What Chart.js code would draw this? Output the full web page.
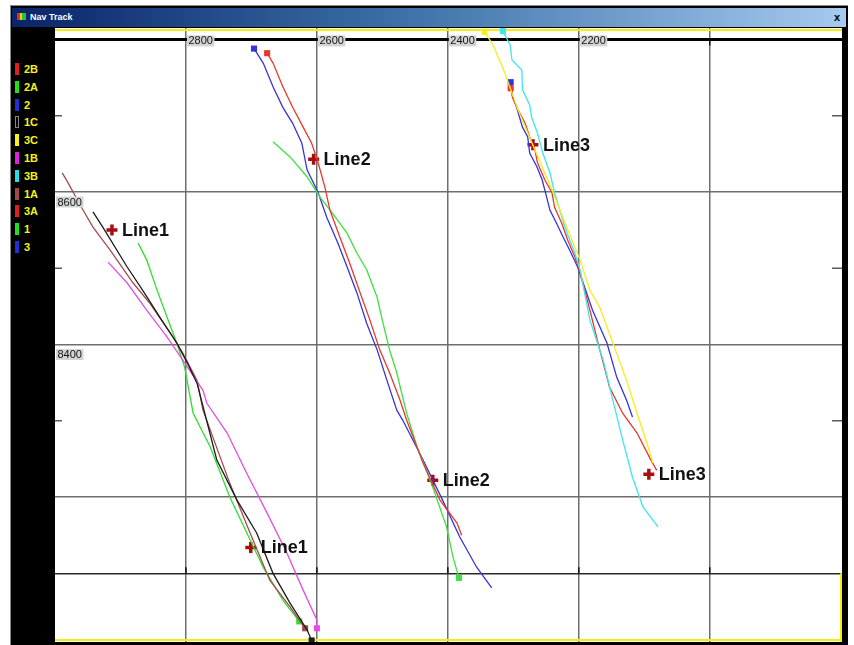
<!DOCTYPE html>
<html>
<head>
<meta charset="utf-8">
<title>Nav Track</title>
<script src="https://cdn.jsdelivr.net/npm/chart.js@4.4.1/dist/chart.umd.min.js"></script>
<style>
    body { margin: 0; width: 854px; height: 645px; background: #fff; position: relative; overflow: hidden; font-family: "Liberation Sans", Arial, sans-serif; }
    #window { position: absolute; left: 10px; top: 5px; width: 838px; height: 640px; background: #000; border-left: 1px solid #888; border-top: 1px solid #888; box-sizing: border-box; }
    #titlebar { position: absolute; left: 12px; top: 8px; width: 834px; height: 19px; background: linear-gradient(to right, #0a246a 0%, #3a6ea5 45%, #a6caf0 100%); }
    #title-icon { position: absolute; left: 5px; top: 5px; width: 9px; height: 7px; background: linear-gradient(to right, #e03030 0 30%, #f0d020 30% 60%, #30c030 60%); }
    #title-text { position: absolute; left: 18px; top: 3px; color: #fff; font: bold 9px "Liberation Sans", Arial, sans-serif; line-height: 12px; }
    #title-close { position: absolute; right: 2px; top: 2px; width: 10px; height: 14px; color: #000; font: bold 11px "Liberation Sans", Arial, sans-serif; line-height: 14px; }
    #legend { position: absolute; left: 12px; top: 28px; width: 43px; height: 614px; background: #000; }
    .legend-item { position: absolute; left: 3px; height: 12px; }
    .legend-swatch { position: absolute; left: 0; top: 0; width: 4px; height: 12px; box-sizing: border-box; }
    .legend-label { position: absolute; left: 9px; top: 0; color: #f4f020; font: bold 11px "Liberation Sans", Arial, sans-serif; line-height: 12px; white-space: nowrap; }
    #plot { position: absolute; left: 55px; top: 28px; width: 787px; height: 614px; background: #fff; }
</style>
</head>
<body>
<div id="window"></div>
<div id="titlebar">
    <div id="title-icon"></div>
    <div id="title-text">Nav Track</div>
    <div id="title-close">x</div>
</div>
<div id="legend"></div>
<canvas id="plot" width="787" height="614"></canvas>
<script>
// Track names as listed in the side legend (top to bottom)
const legendNames = ['2B', '2A', '2', '1C', '3C', '1B', '3B', '1A', '3A', '1', '3'];

// Axis values (easting runs right to left)
const xGridValues = [2800, 2600, 2400, 2200, 2000];
const xTickLabels = ['2800', '2600', '2400', '2200'];
const yGridValues = [8800, 8600, 8400, 8200, 8100];
const yTickValues = [8600, 8400];
const yTickLabels = ['8600', '8400'];
const yMinorTicks = [8700, 8500, 8300];

// Track positions [easting, northing]
const track1A = [[2989, 8625], [2980, 8612], [2959, 8579], [2942, 8554], [2916, 8524], [2881, 8481], [2855, 8454], [2820, 8410], [2805, 8389], [2783, 8353], [2774, 8314], [2733, 8218], [2702, 8153], [2672, 8091], [2641, 8056], [2618, 8028]];
const track1C = [[2942, 8574], [2927, 8554], [2890, 8502], [2866, 8471], [2840, 8436], [2814, 8402], [2798, 8376], [2783, 8349], [2753, 8249], [2722, 8196], [2692, 8153], [2667, 8100], [2641, 8061], [2615, 8026], [2608, 8012]];
const track1B = [[2919, 8508], [2890, 8481], [2860, 8445], [2829, 8410], [2805, 8380], [2774, 8340], [2768, 8323], [2737, 8284], [2707, 8231], [2676, 8179], [2646, 8127], [2621, 8078], [2600, 8039], [2600, 8028]];
const track1 = [[2873, 8533], [2860, 8511], [2844, 8471], [2829, 8436], [2814, 8402], [2802, 8370], [2789, 8310], [2763, 8266], [2733, 8200], [2707, 8153], [2682, 8108], [2652, 8065], [2627, 8037]];

const track2 = [[2696, 8788], [2682, 8769], [2667, 8738], [2652, 8711], [2637, 8690], [2623, 8664], [2615, 8629], [2598, 8599], [2585, 8567], [2568, 8533], [2554, 8502], [2539, 8468], [2524, 8428], [2508, 8393], [2493, 8353], [2478, 8314], [2469, 8301], [2438, 8249], [2408, 8196], [2382, 8148], [2356, 8108], [2333, 8081]];
const track2B = [[2676, 8782], [2667, 8769], [2652, 8738], [2637, 8711], [2621, 8685], [2608, 8664], [2598, 8638], [2588, 8607], [2580, 8576], [2565, 8541], [2550, 8507], [2534, 8468], [2519, 8432], [2504, 8393], [2489, 8363], [2473, 8327], [2463, 8301], [2438, 8245], [2412, 8196], [2386, 8166], [2379, 8150]];
const track2A = [[2667, 8666], [2641, 8646], [2615, 8620], [2595, 8593], [2576, 8572], [2554, 8546], [2539, 8520], [2524, 8498], [2508, 8462], [2499, 8428], [2489, 8393], [2478, 8363], [2469, 8331], [2463, 8310], [2447, 8266], [2423, 8213], [2402, 8161], [2392, 8121], [2383, 8094]];

const track3C = [[2344, 8810], [2331, 8793], [2313, 8756], [2293, 8708], [2267, 8655], [2241, 8603], [2220, 8557], [2198, 8511], [2183, 8471], [2168, 8449], [2148, 8402], [2127, 8353], [2111, 8310], [2096, 8271], [2087, 8245]];
const track3B = [[2316, 8811], [2305, 8793], [2302, 8773], [2287, 8760], [2286, 8734], [2275, 8714], [2272, 8698], [2263, 8677], [2255, 8651], [2244, 8625], [2237, 8599], [2229, 8576], [2218, 8546], [2206, 8520], [2198, 8498], [2183, 8432], [2163, 8380], [2148, 8327], [2133, 8275], [2118, 8226], [2102, 8187], [2079, 8161]];
const track3A = [[2304, 8736], [2301, 8723], [2293, 8708], [2282, 8690], [2275, 8672], [2267, 8655], [2263, 8638], [2252, 8616], [2241, 8599], [2237, 8580], [2226, 8559], [2217, 8537], [2206, 8515], [2198, 8494], [2183, 8445], [2168, 8393], [2153, 8344], [2133, 8310], [2111, 8284], [2092, 8252], [2081, 8235]];
const track3 = [[2304, 8744], [2301, 8725], [2295, 8711], [2286, 8685], [2278, 8672], [2275, 8651], [2264, 8633], [2256, 8616], [2249, 8593], [2244, 8576], [2234, 8559], [2224, 8541], [2214, 8524], [2202, 8502], [2195, 8485], [2179, 8445], [2157, 8402], [2142, 8357], [2127, 8327], [2118, 8305]];

// Which end of each track carries the position marker
const markerEnd = { '2B': 'start', '2A': 'end', '2': 'start', '1C': 'end', '3C': 'start', '1B': 'end', '3B': 'start', '1A': 'end', '3A': 'start', '1': 'end', '3': 'start' };

// Line name labels
const lineNames = ['Line1', 'Line1', 'Line2', 'Line2', 'Line3', 'Line3'];
const lineLabelX = [2913, 2701, 2605, 2423, 2270, 2093];
const lineLabelY = [8550, 8134, 8643, 8222, 8662, 8230];

const trackData = {
    '2B': track2B, '2A': track2A, '2': track2,
    '1C': track1C, '3C': track3C, '1B': track1B, '3B': track3B,
    '1A': track1A, '3A': track3A, '1': track1, '3': track3
};

const trackColors = {
    '2B': '#e8382e', '2A': '#3ee03e', '2': '#3434dc',
    '1C': '#1c1c1c', '3C': '#f6ee1a', '1B': '#e24ee2', '3B': '#3ee6ee',
    '1A': '#a44c4c', '3A': '#e8382e', '1': '#30dc30', '3': '#3434dc'
};

const swatchColors = {
    '2B': '#e02020', '2A': '#20e020', '2': '#2030d8', '1C': '#000', '3C': '#f8f020',
    '1B': '#e020e0', '3B': '#20e0e8', '1A': '#a04848', '3A': '#e02020', '1': '#20e020', '3': '#2030d8'
};

// Build the side legend
function buildLegend() {
    const legend = document.getElementById('legend');
    legendNames.forEach((name, i) => {
        const item = document.createElement('div');
        item.className = 'legend-item';
        item.style.top = (35 + i * 17.8) + 'px';
        const swatch = document.createElement('div');
        swatch.className = 'legend-swatch';
        swatch.style.background = swatchColors[name];
        if (name === '1C') swatch.style.border = '1px solid #888';
        const label = document.createElement('div');
        label.className = 'legend-label';
        label.textContent = name;
        item.appendChild(swatch);
        item.appendChild(label);
        legend.appendChild(item);
    });
}

// Helper: draw an axis value on a grey box
function drawTickLabel(ctx, text, x, y) {
    ctx.font = '11px "Liberation Sans", Arial, sans-serif';
    const w = ctx.measureText(text).width;
    ctx.fillStyle = '#d4d4d4';
    ctx.fillRect(x, y - 5.5, w + 3, 11);
    ctx.fillStyle = '#141414';
    ctx.textBaseline = 'middle';
    ctx.textAlign = 'left';
    ctx.fillText(text, x + 1.5, y + 0.5);
}

// Frame, minor ticks and labels drawn against the chart scales
const navTrackDecor = {
    id: 'navTrackDecor',
    beforeDatasetsDraw(chart) {
        const { ctx, chartArea: a, scales: { x, y } } = chart;
        ctx.save();
        ctx.strokeStyle = '#f2ee10';
        ctx.lineWidth = 2;
        ctx.beginPath();
        ctx.moveTo(a.left, a.top + 2);
        ctx.lineTo(a.right, a.top + 2);
        ctx.moveTo(a.left, a.bottom - 2);
        ctx.lineTo(a.right, a.bottom - 2);
        ctx.moveTo(a.right - 1, y.getPixelForValue(8100));
        ctx.lineTo(a.right - 1, a.bottom);
        ctx.stroke();

        ctx.strokeStyle = '#5a5a5a';
        ctx.lineWidth = 1.5;
        ctx.beginPath();
        yMinorTicks.forEach(v => {
            const py = y.getPixelForValue(v);
            ctx.moveTo(a.left, py);
            ctx.lineTo(a.left + 7, py);
            ctx.moveTo(a.right - 10, py);
            ctx.lineTo(a.right, py);
        });
        ctx.stroke();

        ctx.strokeStyle = '#111';
        ctx.beginPath();
        const topY = y.getPixelForValue(8800);
        const lowY = y.getPixelForValue(8100);
        ctx.moveTo(x.getPixelForValue(2000), topY);
        ctx.lineTo(x.getPixelForValue(2000), topY + 6);
        xGridValues.forEach(v => {
            ctx.moveTo(x.getPixelForValue(v), lowY);
            ctx.lineTo(x.getPixelForValue(v), lowY - 6);
        });
        ctx.stroke();
        ctx.restore();
    },
    afterDatasetsDraw(chart) {
        const { ctx, scales: { x, y } } = chart;
        ctx.save();
        const topY = y.getPixelForValue(8800);
        xTickLabels.forEach((text, i) => {
            drawTickLabel(ctx, text, x.getPixelForValue(xGridValues[i]) + 1, topY + 1.5);
        });
        yTickLabels.forEach((text, i) => {
            drawTickLabel(ctx, text, 1, y.getPixelForValue(yTickValues[i]) + 10);
        });

        // Line names next to their crosses
        const meta = chart.getDatasetMeta(chart.data.datasets.length - 1);
        ctx.font = 'bold 18px "Liberation Sans", Arial, sans-serif';
        ctx.fillStyle = '#111';
        ctx.textBaseline = 'middle';
        ctx.textAlign = 'left';
        meta.data.forEach((pt, i) => {
            ctx.fillText(lineNames[i], pt.x + 10, pt.y + 1);
        });
        ctx.restore();
    }
};

// Build datasets from the track arrays
function buildDatasets() {
    const sets = legendNames.map(name => {
        const pts = trackData[name];
        const markIndex = markerEnd[name] === 'start' ? 0 : pts.length - 1;
        return {
            label: name,
            data: pts.map(p => ({ x: p[0], y: p[1] })),
            showLine: true,
            borderColor: trackColors[name],
            borderWidth: 1.3,
            tension: 0,
            pointStyle: 'rect',
            pointRadius: ctx => (ctx.dataIndex === markIndex ? 4.3 : 0),
            pointBackgroundColor: trackColors[name],
            pointBorderWidth: 0
        };
    });
    sets.push({
        label: 'labels',
        data: lineLabelX.map((v, i) => ({ x: v, y: lineLabelY[i] })),
        showLine: false,
        pointStyle: 'cross',
        pointRadius: 5.5,
        pointBorderWidth: 3.5,
        pointBorderColor: '#a80e0e'
    });
    return sets;
}

function gridColor(ctx) {
    const v = ctx.tick ? ctx.tick.value : null;
    if (v === 8800) return '#000';
    if (v === 8100) return '#2a2a2a';
    return '#6e6e6e';
}

function gridWidth(ctx) {
    const v = ctx.tick ? ctx.tick.value : null;
    return v === 8800 ? 3 : 1.5;
}

buildLegend();

new Chart(document.getElementById('plot'), {
    type: 'scatter',
    data: { datasets: buildDatasets() },
    options: {
        responsive: false,
        animation: false,
        events: [],
        layout: { padding: 0, autoPadding: false },
        plugins: {
            legend: { display: false },
            tooltip: { enabled: false }
        },
        scales: {
            x: {
                type: 'linear',
                reverse: true,
                min: 1798,
                max: 3000,
                afterBuildTicks: axis => { axis.ticks = xGridValues.map(v => ({ value: v })); },
                ticks: { display: false },
                border: { display: false },
                grid: { drawTicks: false, color: '#6e6e6e', lineWidth: 1.5 }
            },
            y: {
                type: 'linear',
                min: 8010,
                max: 8815,
                afterBuildTicks: axis => { axis.ticks = yGridValues.map(v => ({ value: v })); },
                ticks: { display: false },
                border: { display: false },
                grid: { drawTicks: false, color: gridColor, lineWidth: gridWidth }
            }
        }
    },
    plugins: [navTrackDecor]
});
</script>
</body>
</html>
